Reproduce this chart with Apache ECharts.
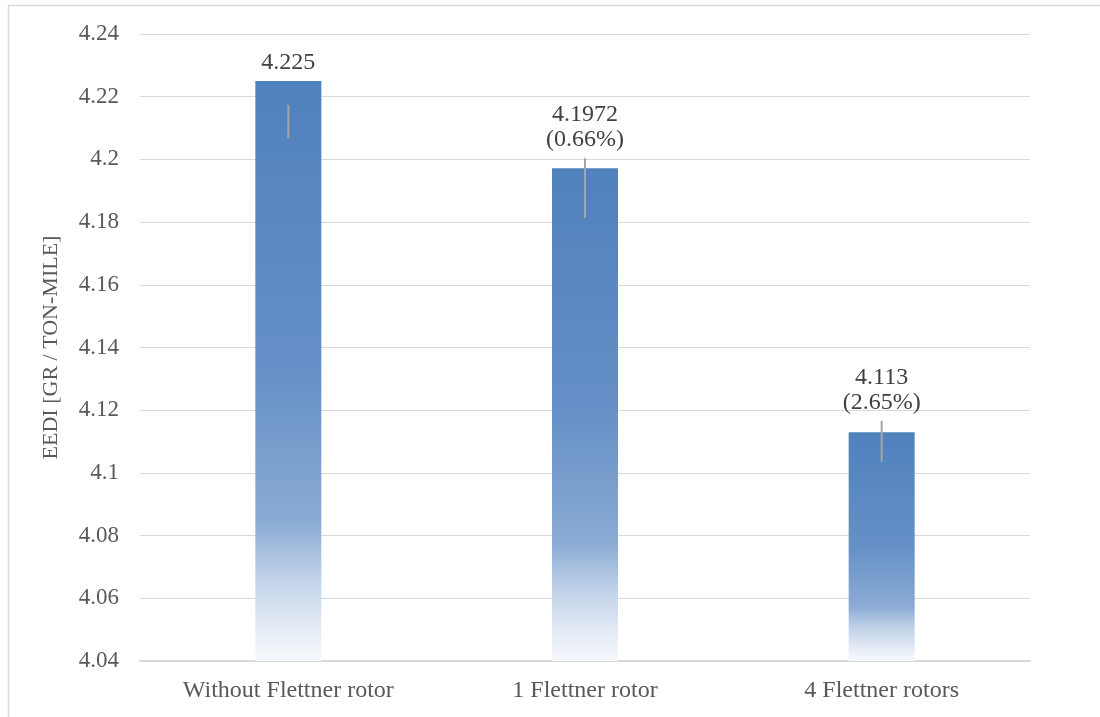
<!DOCTYPE html>
<html>
<head>
<meta charset="utf-8">
<script src="https://cdn.jsdelivr.net/npm/echarts@6/dist/echarts.min.js"></script>
<style>
  html, body { margin: 0; padding: 0; background: #ffffff; }
  #chart { width: 1100px; height: 717px; }
</style>
</head>
<body>
<div id="chart"></div>
<script>
// EEDI for each rotor configuration
const categories = ['Without Flettner rotor', '1 Flettner rotor', '4 Flettner rotors'];
const eediValues = [4.225, 4.1972, 4.113];
const reductionLabels = ['', '(0.66%)', '(2.65%)'];
// Error bar extents
const errHigh = [4.2174, 4.2004, 4.1166];
const errLow = [4.2068, 4.1813, 4.1035];
// Value axis ticks
const yTicks = ['4.04', '4.06', '4.08', '4.1', '4.12', '4.14', '4.16', '4.18', '4.2', '4.22', '4.24'];

const FONT = '"Liberation Serif", "Times New Roman", serif';
const chart = echarts.init(document.getElementById('chart'), null, { renderer: 'canvas' });

const barGradient = new echarts.graphic.LinearGradient(0, 0, 0, 1, [
  { offset: 0, color: '#4f81bd' },
  { offset: 0.5, color: '#6690c6' },
  { offset: 0.76, color: '#8aabd4' },
  { offset: 0.86, color: '#c2d3e9' },
  { offset: 0.94, color: '#e3eaf5' },
  { offset: 1, color: '#f6f9fc' }
]);

const errData = categories.map((c, i) => [i, errLow[i], errHigh[i], eediValues[i]]);

chart.setOption({
  animation: false,
  backgroundColor: '#ffffff',
  graphic: [{
    type: 'rect',
    shape: { x: 8.5, y: 5.5, width: 1300, height: 900 },
    style: { fill: 'none', stroke: '#d9d9d9', lineWidth: 1.5 },
    silent: true
  }],
  grid: { left: 140, right: 70, top: 34, bottom: 56, containLabel: false },
  xAxis: {
    type: 'category',
    data: categories,
    axisLine: { lineStyle: { color: '#d9d9d9', width: 2 } },
    axisTick: { show: false },
    axisLabel: { color: '#595959', fontFamily: FONT, fontSize: 24, margin: 18 }
  },
  yAxis: {
    type: 'value',
    min: 4.04,
    max: 4.24,
    interval: 0.02,
    name: 'EEDI [GR / TON-MILE]',
    nameLocation: 'middle',
    nameGap: 78,
    nameTextStyle: { color: '#595959', fontFamily: FONT, fontSize: 22 },
    axisLine: { show: false },
    axisTick: { show: false },
    splitLine: { lineStyle: { color: '#d9d9d9', width: 1 } },
    axisLabel: {
      color: '#595959', fontFamily: FONT, fontSize: 23, margin: 21,
      formatter: function (v) {
        const idx = Math.round((v - 4.04) / 0.02);
        return yTicks[idx] !== undefined ? yTicks[idx] : '';
      }
    }
  },
  series: [
    {
      type: 'bar',
      data: eediValues,
      barWidth: 66,
      itemStyle: { color: barGradient }
    },
    {
      type: 'custom',
      data: errData,
      z: 5,
      renderItem: function (params, api) {
        const i = api.value(0);
        const pLo = api.coord([i, api.value(1)]);
        const pHi = api.coord([i, api.value(2)]);
        const pBar = api.coord([i, api.value(3)]);
        const topY = Math.min(pHi[1], pBar[1]);
        const txt = reductionLabels[i]
          ? String(eediValues[i]) + '\n' + reductionLabels[i]
          : String(eediValues[i]);
        return {
          type: 'group',
          children: [
            {
              type: 'line',
              shape: { x1: pLo[0], y1: pLo[1], x2: pHi[0], y2: pHi[1] },
              style: { stroke: '#a5a5a5', lineWidth: 2 }
            },
            {
              type: 'text',
              x: pBar[0],
              y: topY - 6,
              style: {
                text: txt,
                fill: '#404040',
                font: '24px ' + FONT,
                lineHeight: 25,
                align: 'center',
                verticalAlign: 'bottom'
              }
            }
          ]
        };
      }
    }
  ]
});
</script>
</body>
</html>
